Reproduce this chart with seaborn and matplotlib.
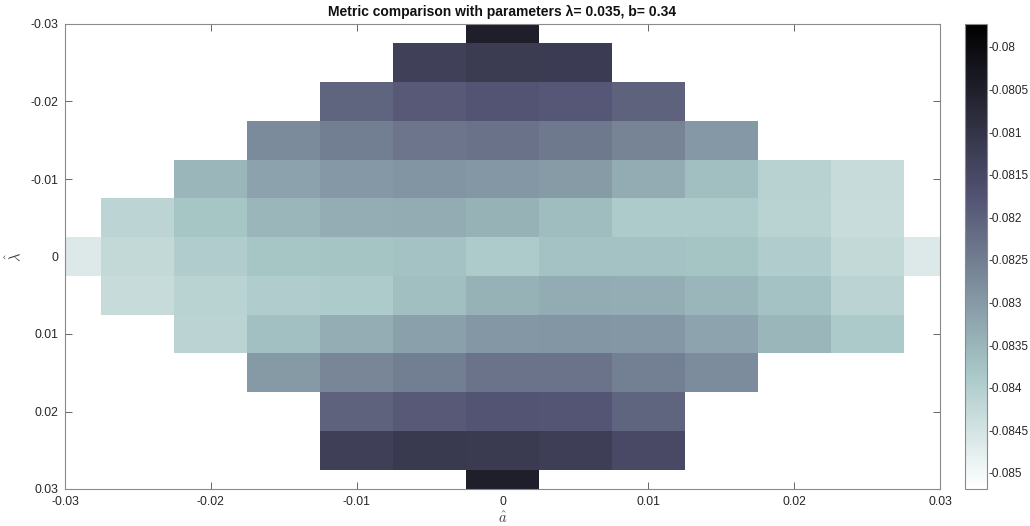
import numpy as np
import pandas as pd
import seaborn as sns
import matplotlib.pyplot as plt

sns.set_style("ticks")
plt.rcParams['font.family'] = ['Liberation Sans', 'DejaVu Sans']
plt.rcParams['mathtext.fontset'] = 'cm'

N = np.nan
a_vals = [-0.03, -0.025, -0.02, -0.015, -0.01, -0.005, 0.0, 0.005, 0.01, 0.015, 0.02, 0.025, 0.03]
lam_vals = [-0.03, -0.025, -0.02, -0.015, -0.01, -0.005, 0.0, 0.005, 0.01, 0.015, 0.02, 0.025, 0.03]

row_lam_m030 = [N, N, N, N, N, N, -0.08049, N, N, N, N, N, N]
row_lam_m025 = [N, N, N, N, N, -0.08130, -0.08117, -0.08120, N, N, N, N, N]
row_lam_m020 = [N, N, N, N, -0.08206, -0.08186, -0.08176, -0.08183, -0.08203, N, N, N, N]
row_lam_m015 = [N, N, N, -0.08274, -0.08252, -0.08237, -0.08230, -0.08242, -0.08262, -0.08298, N, N, N]
row_lam_m010 = [N, N, -0.08352, -0.08315, -0.08298, -0.08291, -0.08296, -0.08303, -0.08333, -0.08367, -0.08407, -0.08431, N]
row_lam_m005 = [N, -0.08413, -0.08380, -0.08352, -0.08335, -0.08333, -0.08343, -0.08362, -0.08391, -0.08392, -0.08410, -0.08433, N]
row_lam_000 = [-0.08464, -0.08425, -0.08394, -0.08380, -0.08377, -0.08372, -0.08390, -0.08372, -0.08372, -0.08377, -0.08394, -0.08425, -0.08464]
row_lam_p005 = [N, -0.08431, -0.08410, -0.08394, -0.08391, -0.08367, -0.08343, -0.08333, -0.08335, -0.08352, -0.08372, -0.08412, N]
row_lam_p010 = [N, N, -0.08412, -0.08369, -0.08335, -0.08311, -0.08296, -0.08294, -0.08296, -0.08318, -0.08352, -0.08387, N]
row_lam_p015 = [N, N, N, -0.08301, -0.08267, -0.08252, -0.08232, -0.08232, -0.08254, -0.08277, N, N, N]
row_lam_p020 = [N, N, N, N, -0.08203, -0.08186, -0.08176, -0.08179, -0.08206, N, N, N, N]
row_lam_p025 = [N, N, N, N, -0.08127, -0.08113, -0.08115, -0.08125, -0.08154, N, N, N, N]
row_lam_p030 = [N, N, N, N, N, N, -0.08049, N, N, N, N, N, N]

axis_ticks = [-0.03, -0.02, -0.01, 0.0, 0.01, 0.02, 0.03]
axis_ticklabels = ['-0.03', '-0.02', '-0.01', '0', '0.01', '0.02', '0.03']
cbar_ticks = [-0.08, -0.0805, -0.081, -0.0815, -0.082, -0.0825, -0.083, -0.0835, -0.084, -0.0845, -0.085]
cbar_ticklabels = ['-0.08', '-0.0805', '-0.081', '-0.0815', '-0.082', '-0.0825', '-0.083',
                   '-0.0835', '-0.084', '-0.0845', '-0.085']
c_min, c_max = -0.08519, -0.07973

rows = [row_lam_m030, row_lam_m025, row_lam_m020, row_lam_m015, row_lam_m010, row_lam_m005,
        row_lam_000, row_lam_p005, row_lam_p010, row_lam_p015, row_lam_p020, row_lam_p025, row_lam_p030]
df = pd.DataFrame(rows, index=lam_vals, columns=a_vals)

W, H = 1030, 526
fig = plt.figure(figsize=(W / 100, H / 100), dpi=100)
ax = fig.add_axes([65 / W, 1 - 489 / H, 875 / W, 465 / H])
cax = fig.add_axes([965 / W, 1 - 489 / H, 22 / W, 465 / H])

sns.heatmap(df, ax=ax, cbar_ax=cax, cmap='bone_r', vmin=c_min, vmax=c_max,
            xticklabels=False, yticklabels=False)

# map data values to heatmap cell coordinates
step = a_vals[1] - a_vals[0]
def to_pos(v, origin):
    return (v - origin) / step + 0.5

ax.set_xlim(to_pos(a_vals[0], a_vals[0]), to_pos(a_vals[-1], a_vals[0]))
ax.set_ylim(to_pos(lam_vals[-1], lam_vals[0]), to_pos(lam_vals[0], lam_vals[0]))
ax.set_xticks([to_pos(t, a_vals[0]) for t in axis_ticks])
ax.set_xticklabels(axis_ticklabels)
ax.set_yticks([to_pos(t, lam_vals[0]) for t in axis_ticks])
ax.set_yticklabels(axis_ticklabels, rotation=0)

edge = '#8a8a8a'
for s in ax.spines.values():
    s.set_visible(True)
    s.set_color(edge)
    s.set_linewidth(0.8)
ax.tick_params(direction='in', top=True, right=True, bottom=True, left=True,
               length=5, width=0.7, color='#666666', labelsize=8.8, labelcolor='#262626', pad=5)

ax.set_xlabel(r'$\hat{a}$', fontsize=10.5, color='#404040', labelpad=2)
ax.set_ylabel(r'$\hat{\lambda}$', fontsize=10.5, color='#404040', labelpad=5)
ax.set_title('Metric comparison with parameters λ= 0.035, b= 0.34', fontsize=10,
             fontweight='bold', color='#111111', pad=6)

cbar = ax.collections[0].colorbar
cbar.set_ticks(cbar_ticks)
cbar.set_ticklabels(cbar_ticklabels)
cbar.outline.set_edgecolor(edge)
cbar.outline.set_linewidth(0.8)
cax.tick_params(direction='in', length=3, width=0.7, color='#666666', labelsize=8.5,
                labelcolor='#262626', pad=1)

fig.savefig('out.png', dpi=100)
